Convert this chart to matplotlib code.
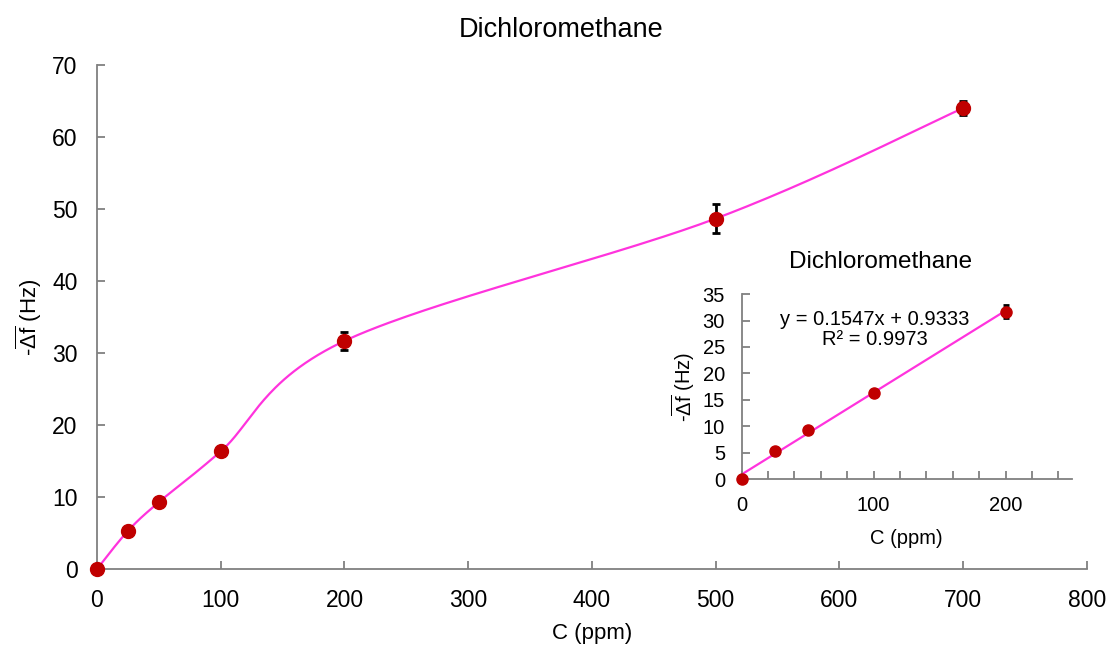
import numpy as np
import matplotlib
matplotlib.use('Agg')
import matplotlib.pyplot as plt

plt.rcParams['font.family'] = ['Liberation Sans', 'DejaVu Sans']
plt.rcParams['mathtext.fontset'] = 'custom'
plt.rcParams['mathtext.rm'] = 'Liberation Sans'
plt.rcParams['mathtext.it'] = 'Liberation Sans:italic'

# concentration (ppm) and frequency shift (Hz)
conc = [0, 25, 50, 100, 200, 500, 700]
shift = [0.0, 5.3, 9.3, 16.35, 31.7, 48.7, 64.05]
err = [0.0, 0.3, 0.3, 0.3, 1.2, 2.0, 1.0]

# linear region used for the calibration fit
conc_lin = [0, 25, 50, 100, 200]
shift_lin = [0.0, 5.3, 9.3, 16.35, 31.7]
err_lin = [0.0, 0.3, 0.3, 0.3, 1.2]
slope, intercept, r2 = 0.1547, 0.9333, 0.9973

line_col = '#FF33DD'
pt_col = '#C00000'
spine_col = '#808080'
ylab = r'-$\overline{\mathit{\Delta}\mathrm{f}}$ (Hz)'


def smooth_curve(xs, ys, n=60):
    # Bezier smoothing through the points (same style as spreadsheet "smoothed line")
    xs = np.asarray(xs, float)
    ys = np.asarray(ys, float)
    P = np.column_stack([xs, ys])
    out = []
    for i in range(len(P) - 1):
        p0 = P[i - 1] if i > 0 else P[i]
        p1 = P[i]
        p2 = P[i + 1]
        p3 = P[i + 2] if i + 2 < len(P) else P[i + 1]
        c1 = p1 + (p2 - p0) / 6
        c2 = p2 - (p3 - p1) / 6
        t = np.linspace(0, 1, n)[:, None]
        seg = ((1 - t) ** 3) * p1 + 3 * ((1 - t) ** 2) * t * c1 + 3 * (1 - t) * t ** 2 * c2 + t ** 3 * p2
        out.append(seg)
    seg = np.vstack(out)
    return seg[:, 0], seg[:, 1]


def style_axes(ax, size, pad):
    for s in ['top', 'right']:
        ax.spines[s].set_visible(False)
    for s in ['left', 'bottom']:
        ax.spines[s].set_color(spine_col)
        ax.spines[s].set_linewidth(1.3)
    ax.tick_params(direction='in', color=spine_col, labelsize=size, width=1.3, length=6, pad=pad)
    ax.tick_params(which='minor', direction='in', color=spine_col, width=1.3, length=6)


fig = plt.figure(figsize=(11.08, 6.46), dpi=100)
ax = fig.add_axes([0.0875, 0.119, 0.8935, 0.780])

sx, sy = smooth_curve(conc, shift)
ax.plot(sx, sy, color=line_col, lw=1.6, zorder=2, clip_on=False)
ax.errorbar(conc, shift, yerr=err, fmt='o', color=pt_col, ms=10, ecolor='black',
            elinewidth=2, capsize=3, capthick=2, zorder=3)
ax.set_xlim(0, 800)
ax.set_ylim(0, 70)
ax.set_xticks(range(0, 801, 100))
ax.set_yticks(range(0, 71, 10))
style_axes(ax, 16.5, 14)
ax.set_xlabel('C (ppm)', fontsize=16, labelpad=8)
ax.set_ylabel(ylab, fontsize=16, labelpad=6)
ax.set_title('Dichloromethane', fontsize=19.5, pad=20, x=0.469)
for ln in ax.lines + ax.collections:
    ln.set_clip_on(False)

# inset with the linear calibration
ins = fig.add_axes([0.6694, 0.258, 0.2978, 0.2868])
fx = np.array([0, 200])
ins.plot(fx, slope * fx + intercept, color=line_col, lw=1.6, zorder=2)
ins.errorbar(conc_lin, shift_lin, yerr=err_lin, fmt='o', color=pt_col, ms=8, ecolor='black',
             elinewidth=2, capsize=2.5, capthick=2, zorder=3)
ins.set_xlim(0, 250)
ins.set_ylim(0, 35)
ins.set_xticks([0, 100, 200])
ins.set_xticks(range(0, 250, 20), minor=True)
ins.set_yticks(range(0, 36, 5))
style_axes(ins, 14.5, 12)
ins.set_xlabel('C (ppm)', fontsize=14.5, labelpad=10)
ins.set_ylabel(ylab, fontsize=14.5, labelpad=4)
ins.set_title('Dichloromethane', fontsize=17.5, pad=19, x=0.42)
ins.text(101, 28.3, f'y = {slope}x + {intercept}\nR² = {r2}', ha='center', va='center',
         fontsize=14.5, linespacing=1.05)
for ln in ins.lines + ins.collections:
    ln.set_clip_on(False)

fig.savefig('out.png', dpi=100)
